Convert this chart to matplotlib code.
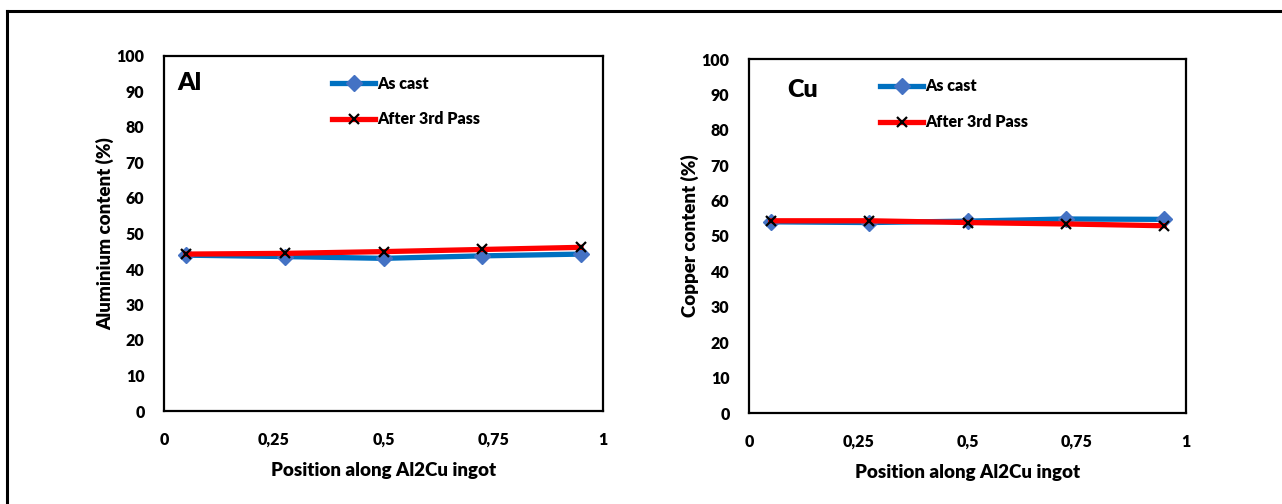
import matplotlib.pyplot as plt
from matplotlib.lines import Line2D

plt.rcParams['font.family'] = ['Lato', 'DejaVu Sans']
plt.rcParams['font.weight'] = 'heavy'

# Positions along the ingot
position = [0.05, 0.275, 0.5, 0.725, 0.95]

# Aluminium content (%)
al_as_cast = [43.9, 43.5, 43.0, 43.7, 44.2]
al_after = [44.2, 44.4, 44.9, 45.5, 46.1]

# Copper content (%)
cu_as_cast = [54.0, 53.8, 54.2, 54.8, 54.7]
cu_after = [54.3, 54.3, 53.8, 53.4, 52.9]

xticks = [0, 0.25, 0.5, 0.75, 1]
xtick_labels = ['0', '0,25', '0,5', '0,75', '1']
yticks = list(range(0, 101, 10))

fig = plt.figure(figsize=(12.82, 5.04), dpi=100)
W, H = 1282, 504

# outer frame (left and top edges visible)
fig.add_artist(Line2D([7 / W, 7 / W], [0, 1 - 11 / H], color='black', lw=2.2))
fig.add_artist(Line2D([7 / W, 1], [1 - 11 / H, 1 - 11 / H], color='black', lw=2.2))

panels = [
    dict(box=(164, 56, 603, 411), cast=al_as_cast, after=al_after, tag='Al', tag_xy=(177, 83),
         ylabel='Aluminium content (%)', leg_x=0.383),
    dict(box=(749, 59, 1186, 413), cast=cu_as_cast, after=cu_after, tag='Cu', tag_xy=(787, 90),
         ylabel='Copper content (%)', leg_x=0.30),
]

for p in panels:
    x0, y0, x1, y1 = p['box']
    ax = fig.add_axes([x0 / W, 1 - y1 / H, (x1 - x0) / W, (y1 - y0) / H])
    ax.plot(position, p['cast'], color='#0070C0', lw=3.8, marker='D', ms=8,
            markerfacecolor='#4472C4', markeredgecolor='#4472C4', label='As cast', zorder=3)
    ax.plot(position, p['after'], color='#FF0000', lw=3.8, marker='x', ms=7.5,
            markeredgecolor='black', mew=1.6, label='After 3rd Pass', zorder=4)
    ax.set_xlim(0, 1)
    ax.set_ylim(0, 100)
    ax.set_xticks(xticks)
    ax.set_xticklabels(xtick_labels)
    ax.set_yticks(yticks)
    ax.tick_params(length=0, labelsize=11.5)
    for lbl in ax.get_xticklabels() + ax.get_yticklabels():
        lbl.set_fontweight('heavy')
    ax.tick_params(axis='x', pad=15)
    ax.tick_params(axis='y', pad=14)
    for s in ax.spines.values():
        s.set_linewidth(1.6)
    ax.set_xlabel('Position along Al2Cu ingot', fontsize=13.5, fontweight='heavy', labelpad=10)
    ax.set_ylabel(p['ylabel'], fontsize=13.5, fontweight='heavy', labelpad=2)
    fig.text(p['tag_xy'][0] / W, 1 - p['tag_xy'][1] / H, p['tag'], fontsize=18,
             fontweight='heavy', va='center', ha='left')
    ax.legend(loc='upper left', bbox_to_anchor=(p['leg_x'], 0.945), frameon=False,
              prop=dict(size=11.5, weight='heavy'), handlelength=2.7, handletextpad=0.1,
              labelspacing=1.25, borderaxespad=0, borderpad=0)

fig.savefig('out.png', dpi=100)
